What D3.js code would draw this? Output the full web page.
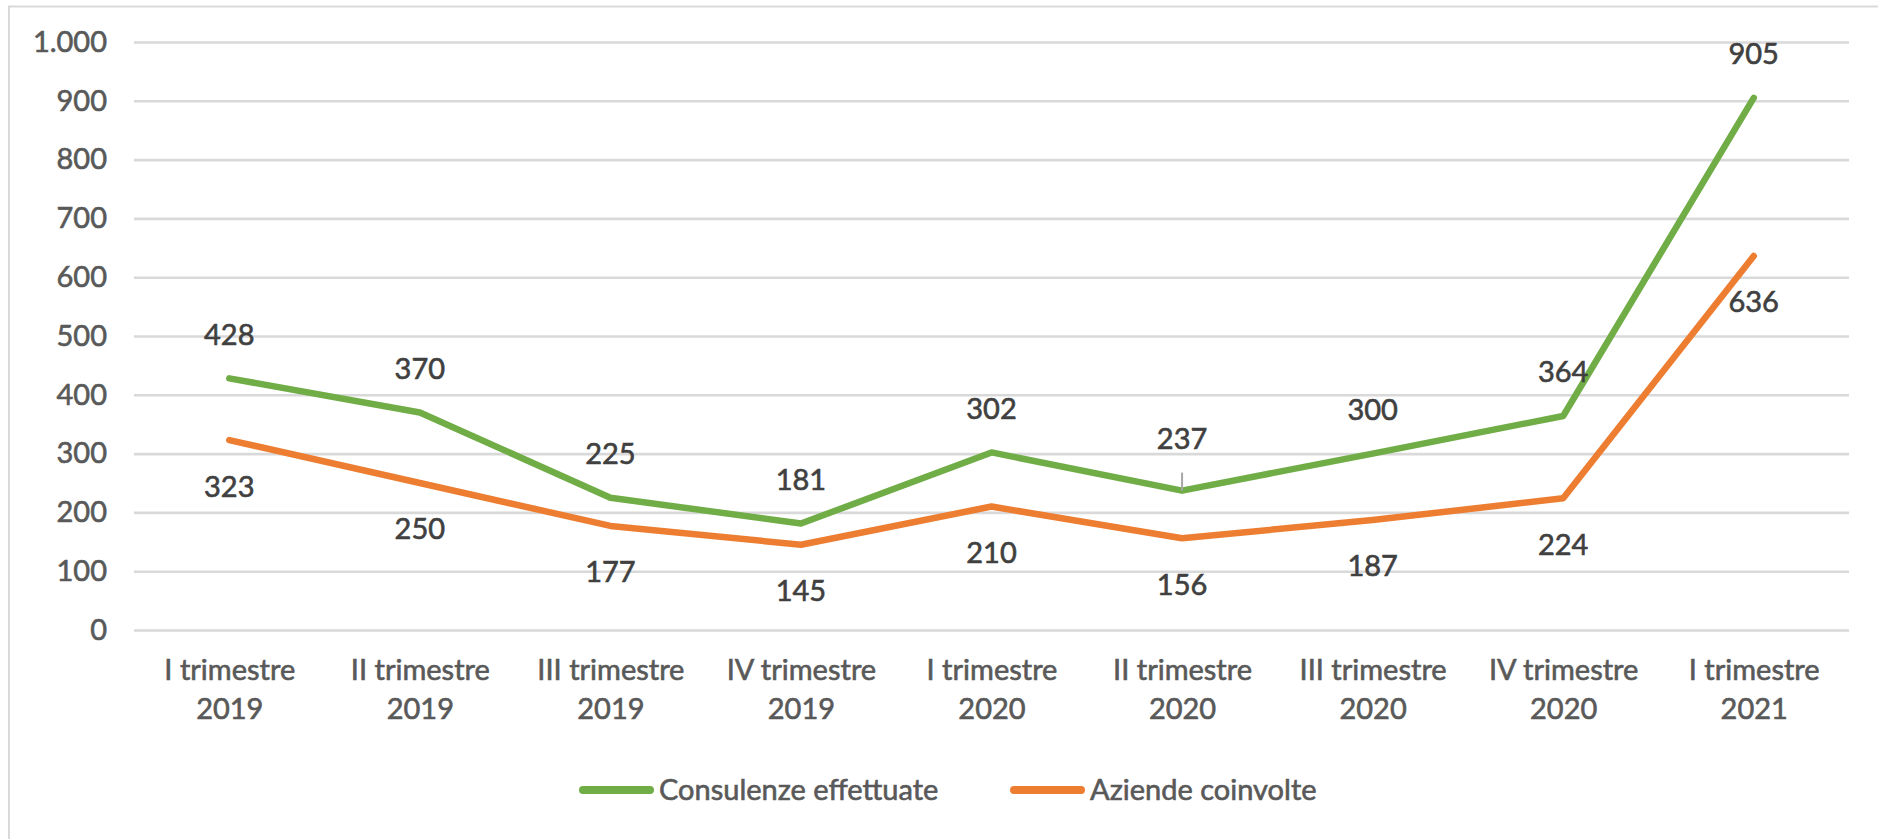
<!DOCTYPE html>
<html>
<head>
<meta charset="utf-8">
<script src="https://cdn.jsdelivr.net/npm/d3@7"></script>
<style>
  html, body { margin: 0; padding: 0; background: #fff; }
  svg { display: block; font-family: Lato, "Open Sans", sans-serif; }
</style>
</head>
<body>
<svg id="chart" width="1878" height="839"></svg>
<script>
const categories = [
  ["I trimestre", "2019"], ["II trimestre", "2019"], ["III trimestre", "2019"],
  ["IV trimestre", "2019"], ["I trimestre", "2020"], ["II trimestre", "2020"],
  ["III trimestre", "2020"], ["IV trimestre", "2020"], ["I trimestre", "2021"]
];
const consulenze = [428, 370, 225, 181, 302, 237, 300, 364, 905];
const aziende = [323, 250, 177, 145, 210, 156, 187, 224, 636];
const yTicks = [0, 100, 200, 300, 400, 500, 600, 700, 800, 900, 1000];
const seriesNames = ["Consulenze effettuate", "Aziende coinvolte"];
const seriesColors = ["#70ad47", "#ed7d31"];

const svg = d3.select("#chart");
const W = 1878, H = 839;
const plot = { left: 134, right: 1849, top: 42, bottom: 630 };
const FS = 29;

const locale = d3.formatLocale({ decimal: ",", thousands: ".", grouping: [3], currency: ["€", ""] });
const fmt = locale.format(",d");

const x = d3.scalePoint().domain(d3.range(categories.length)).range([plot.left, plot.right]).padding(0.5);
const y = d3.scaleLinear().domain([0, 1000]).range([plot.bottom, plot.top]);

function heavy(sel, color) {
  sel.attr("fill", color).attr("stroke", color).attr("stroke-width", 0.6)
     .attr("font-size", FS).attr("font-family", "Lato, sans-serif");
}

// chart border
svg.append("path")
  .attr("d", `M9,${H} L9,6.5 L${W},6.5`)
  .attr("fill", "none").attr("stroke", "#d9d9d9").attr("stroke-width", 2);

// gridlines + y labels
const yAxis = d3.axisLeft(y).tickValues(yTicks).tickSize(-(plot.right - plot.left)).tickPadding(27).tickFormat(fmt);
const gy = svg.append("g").attr("transform", `translate(${plot.left},0)`).call(yAxis);
gy.select(".domain").remove();
gy.selectAll(".tick line").attr("stroke", "#d9d9d9").attr("stroke-width", 2.6);
gy.selectAll(".tick text").call(heavy, "#595959");

// x labels
const xAxis = d3.axisBottom(x).tickSize(0).tickFormat("");
const gx = svg.append("g").attr("transform", `translate(0,${plot.bottom})`).call(xAxis);
gx.select(".domain").remove();
gx.selectAll(".tick").each(function(d) {
  const t = d3.select(this).append("text").attr("text-anchor", "middle").call(heavy, "#595959");
  t.append("tspan").attr("x", 0).attr("y", 50).text(categories[d][0]);
  t.append("tspan").attr("x", 0).attr("y", 89).text(categories[d][1]);
});

// lines
const line = d3.line().x((d, i) => x(i)).y(d => y(d));
[consulenze, aziende].forEach((vals, s) => {
  svg.append("path").datum(vals)
    .attr("d", line)
    .attr("fill", "none")
    .attr("stroke", seriesColors[s])
    .attr("stroke-width", 6.5)
    .attr("stroke-linejoin", "round")
    .attr("stroke-linecap", "round");
});

// data labels
const movedLabel = 5; // label of 237 moved up with a leader line
svg.append("line")
  .attr("x1", x(movedLabel)).attr("x2", x(movedLabel))
  .attr("y1", y(consulenze[movedLabel]) - 18).attr("y2", y(consulenze[movedLabel]))
  .attr("stroke", "#a6a6a6").attr("stroke-width", 2);

svg.append("g").selectAll("text").data(consulenze).join("text")
  .attr("x", (d, i) => x(i))
  .attr("y", (d, i) => y(d) - (i === movedLabel ? 52 : 44))
  .attr("dy", "0.36em")
  .attr("text-anchor", "middle").call(heavy, "#404040")
  .text(d => fmt(d));

svg.append("g").selectAll("text").data(aziende).join("text")
  .attr("x", (d, i) => x(i))
  .attr("y", d => y(d) + 46)
  .attr("dy", "0.36em")
  .attr("text-anchor", "middle").call(heavy, "#404040")
  .text(d => fmt(d));

// legend
const legendY = 790;
const legendItems = [{ x: 579 }, { x: 1010 }];
seriesNames.forEach((name, i) => {
  const g = svg.append("g").attr("transform", `translate(${legendItems[i].x},${legendY})`);
  g.append("line").attr("x1", 4).attr("x2", 71).attr("y1", 0).attr("y2", 0)
    .attr("stroke", seriesColors[i]).attr("stroke-width", 8).attr("stroke-linecap", "round");
  g.append("text").attr("x", 80).attr("y", 0).attr("dy", "0.36em")
    .call(heavy, "#595959").text(name);
});
</script>
</body>
</html>
